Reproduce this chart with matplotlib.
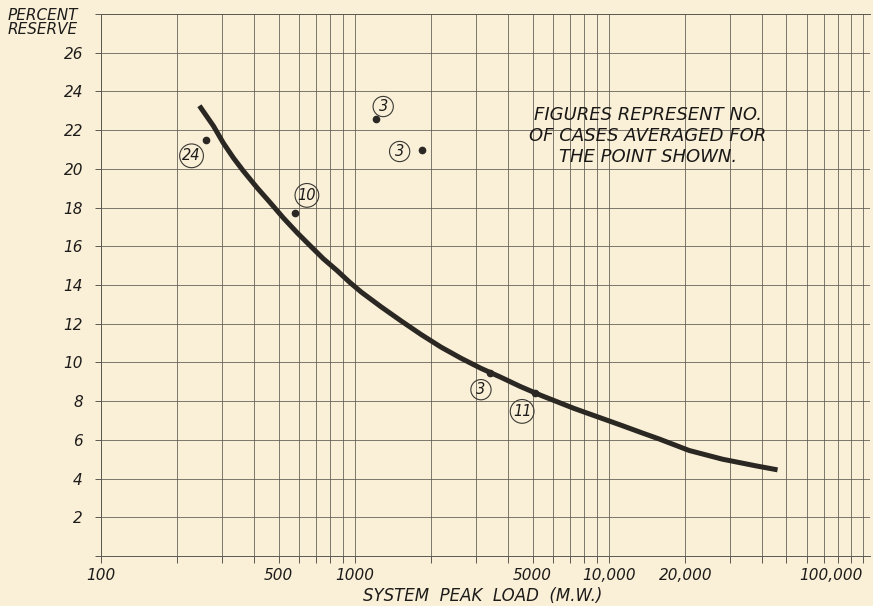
import matplotlib.pyplot as plt
from matplotlib.ticker import FixedLocator, NullLocator

# ── data ────────────────────────────────────────────────────────────
# trend curve (system peak load MW, percent reserve)
curve_load = [244, 277, 303, 332, 363, 412, 464, 522, 592, 666, 750, 851,
              957, 1062, 1271, 1521, 1822, 2182, 2612, 3127, 3743, 4470,
              5440, 7300, 10000, 11250, 13500, 15800, 20700, 28000, 37800,
              46100]
curve_reserve = [23.26, 22.22, 21.34, 20.57, 19.90, 19.02, 18.25, 17.47,
                 16.70, 16.03, 15.36, 14.74, 14.12, 13.62, 12.86, 12.14,
                 11.44, 10.79, 10.22, 9.70, 9.24, 8.76, 8.28, 7.62, 6.98,
                 6.74, 6.36, 6.04, 5.45, 5.00, 4.66, 4.45]

# averaged points and the number of cases behind each one
point_load = [258, 580, 1212, 1830, 3400, 5120]
point_reserve = [21.5, 17.7, 22.6, 21.0, 9.47, 8.4]
point_cases = ["24", "10", "3", "3", "3", "11"]
# where each circled number sits relative to its dot (pixels)
label_offsets = [(-14, -16), (12, 18), (7, 12), (-22, -2), (-9, -17), (-13, -18)]

y_ticks = list(range(0, 30, 2))
x_labels = {100: "100", 500: "500", 1000: "1000", 5000: "5000",
            10000: "10,000", 20000: "20,000", 100000: "100,000"}

PAPER = "#faf0d8"
INK = "#2b2723"
GRID = "#5a5850"
TEXT = "#1e1c1a"

fig = plt.figure(figsize=(8.73, 6.06), dpi=100, facecolor=PAPER)
ax = fig.add_axes([101 / 873, 50 / 606, 769 / 873, 542 / 606])
ax.set_facecolor(PAPER)

ax.set_xscale("log")
ax.set_xlim(100, 106600)
ax.set_ylim(0, 28)

# log-paper grid: every 1..9 step in each decade
grid_x = [m * 10 ** d for d in range(2, 5) for m in range(1, 10)] + [100000]
ax.xaxis.set_major_locator(FixedLocator(grid_x))
ax.xaxis.set_minor_locator(NullLocator())
ax.set_xticklabels([x_labels.get(v, "") for v in grid_x])
ax.yaxis.set_major_locator(FixedLocator(y_ticks))
ax.set_yticklabels(["" if v in (0, 28) else str(v) for v in y_ticks])

ax.grid(True, color=GRID, linewidth=0.7, alpha=0.8)
ax.tick_params(axis="both", colors=GRID, width=0.7, labelcolor=TEXT,
               labelsize=11)
ax.tick_params(axis="x", length=5, pad=4)
ax.tick_params(axis="y", length=4, pad=9)
for lab in ax.get_xticklabels() + ax.get_yticklabels():
    lab.set_fontstyle("italic")
# the last label runs to the page edge
ax.get_xticklabels()[-1].set_horizontalalignment("right")

for side in ("left", "bottom", "top"):
    ax.spines[side].set_color(GRID)
    ax.spines[side].set_linewidth(0.7)
ax.spines["right"].set_visible(False)

# ── trend curve and points ─────────────────────────────────────────
ax.plot(curve_load, curve_reserve, color=INK, linewidth=3.6,
        solid_capstyle="butt", solid_joinstyle="round", zorder=4)
ax.plot(point_load, point_reserve, "o", color=INK, markersize=4.5, zorder=5)

for xv, yv, txt, (dx, dy) in zip(point_load, point_reserve, point_cases,
                                 label_offsets):
    ax.annotate(txt, (xv, yv), xytext=(dx, dy), textcoords="offset pixels",
                ha="center", va="center", fontsize=10.5, style="italic",
                color=TEXT, zorder=6,
                bbox=dict(boxstyle="circle,pad=0.18", fc="none",
                          ec="#3a3833", lw=0.8))

ax.text(14250, 21.7,
        "FIGURES REPRESENT NO.\nOF CASES AVERAGED FOR\nTHE POINT SHOWN.",
        ha="center", va="center", multialignment="center", fontsize=13,
        style="italic", color="#1a1816", linespacing=1.2, zorder=6)

# ── axis titles ───────────────────────────────────────────────────
fig.text(8 / 873, 1 - 15 / 606, "PERCENT", ha="left", va="center",
         fontsize=11, style="italic", color=TEXT)
fig.text(8 / 873, 1 - 29 / 606, "RESERVE", ha="left", va="center",
         fontsize=11, style="italic", color=TEXT)
fig.text(483 / 873, 1 - 596 / 606, "SYSTEM  PEAK  LOAD  (M.W.)",
         ha="center", va="center", fontsize=12, style="italic",
         color=TEXT)

fig.savefig("out.png", dpi=100, facecolor=PAPER)
